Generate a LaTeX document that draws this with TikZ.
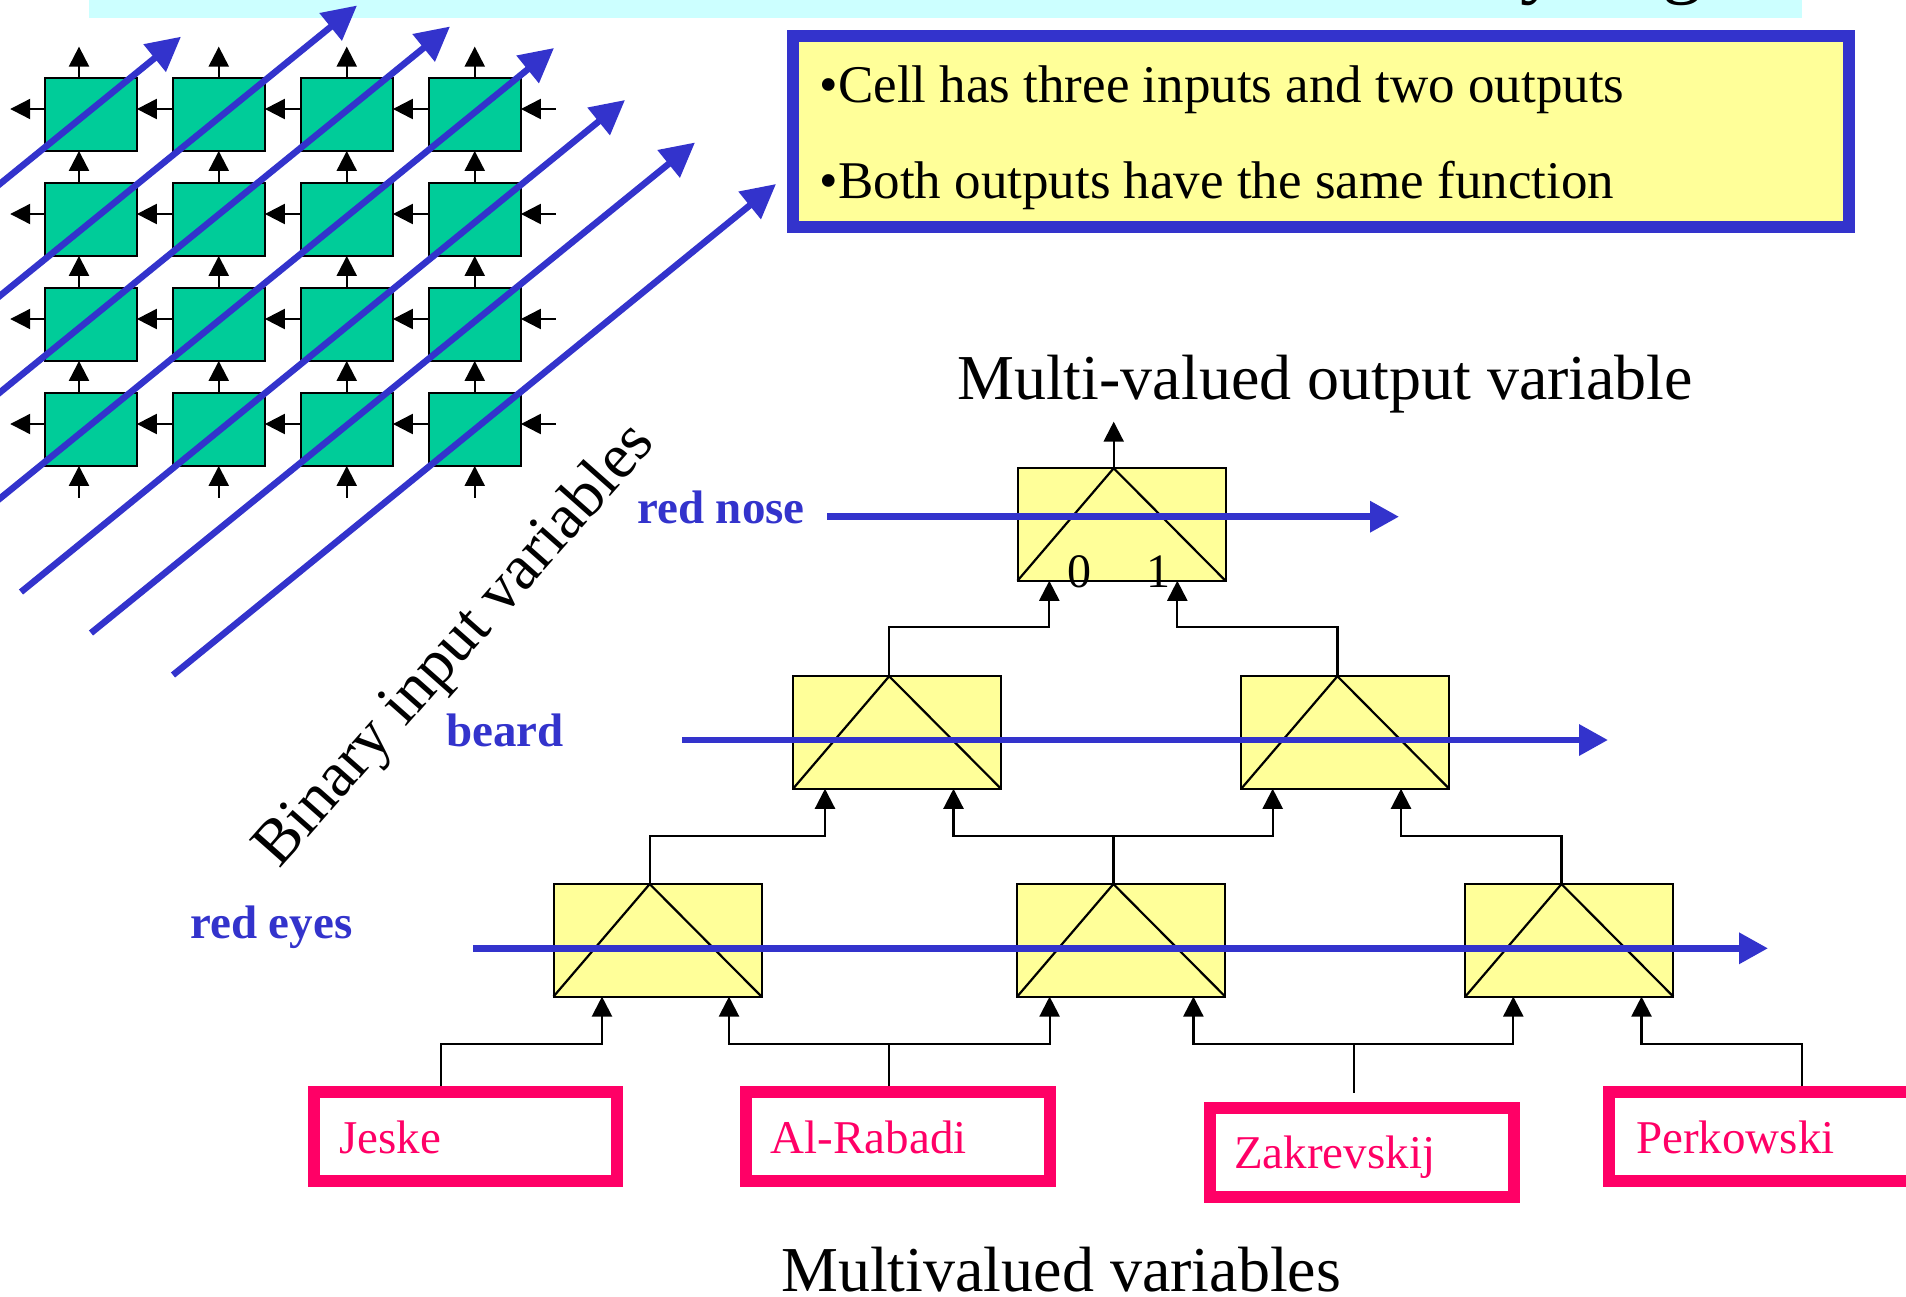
\documentclass[tikz,border=0pt]{standalone}
\usepackage{fontspec}
\setmainfont{Liberation Serif}
\usetikzlibrary{arrows.meta,calc}
\definecolor{cellgreen}{HTML}{00CC99}
\definecolor{varblue}{HTML}{3333CC}
\definecolor{namepink}{HTML}{FF0066}
\definecolor{noteyellow}{HTML}{FFFF99}
\definecolor{bandcyan}{HTML}{CCFFFF}

\begin{document}
\begin{tikzpicture}[x=1pt,y=-1pt,
  gcell/.style={draw=black, line width=2.2pt, fill=cellgreen, minimum width=92.3pt,
    minimum height=73.3pt, inner sep=0pt, outer sep=0pt},
  ycell/.style={draw=black, line width=2pt, fill=noteyellow, minimum width=208pt,
    minimum height=112.5pt, inner sep=0pt, outer sep=0pt},
  wire/.style={draw=black, line width=2.2pt},
  sarr/.style={wire, -{Triangle[length=20pt,width=20pt]}},
  varr/.style={draw=varblue, line width=6.5pt, -{Triangle[length=34pt,width=34pt]}},
  harr/.style={draw=varblue, line width=6.5pt, -{Triangle[length=29pt,width=30pt]}},
  namebox/.style={draw=namepink, line width=12pt, fill=white, minimum width=303.4pt,
    minimum height=89pt, inner sep=0pt, outer sep=0pt},
  notebox/.style={draw=varblue, line width=12pt, fill=noteyellow, minimum width=1056pt,
    minimum height=191pt, inner sep=0pt, outer sep=0pt},
  txt/.style={inner sep=0pt, anchor=base west},
  big/.style={txt, font=\fontsize{64}{70}\selectfont},
  notetxt/.style={txt, font=\fontsize{53}{60}\selectfont},
  nametxt/.style={txt, text=namepink, font=\fontsize{47}{52}\selectfont},
  varlbl/.style={txt, text=varblue, font=\fontsize{47}{52}\selectfont\bfseries},
  digit/.style={txt, font=\fontsize{48}{52}\selectfont},
  titletxt/.style={txt, font=\fontsize{80}{86}\selectfont}
]
\useasboundingbox (0,0) rectangle (1906,1296);
\clip (0,0) rectangle (1906,1296);

% title band (its text lies above the visible area)
\fill[bandcyan] (89,0) rectangle (1802,18);
\node[titletxt] (ttl1) at (1520,-11.7) {y};
\node[titletxt] (ttl2) at (1662.6,-11.7) {g};

% ---------------- iterative array of cells ----------------
\foreach \r in {1,...,4} {
  \foreach \c in {1,...,4} {
    \node[gcell] (g\r\c) at ({90.75+128*(\c-1)}, {114.3+105*(\r-1)}) {};
  }
}
% vertical signals (upwards)
\foreach \c/\dx in {1/-11.75,2/0,3/0,4/0} {
  \coordinate (gt\c) at ([xshift=\dx pt,yshift=31pt]g1\c.north);
  \draw[sarr] ([xshift=\dx pt]g1\c.north) -- (gt\c);
  \foreach \r in {1,2,3} {
    \pgfmathtruncatemacro\rn{\r+1}
    \draw[sarr] ([xshift=\dx pt]g\rn\c.north) -- ([xshift=\dx pt]g\r\c.south);
  }
  \coordinate (gb\c) at ([xshift=\dx pt,yshift=-32pt]g4\c.south);
  \draw[sarr] (gb\c) -- ([xshift=\dx pt]g4\c.south);
}
% horizontal signals (leftwards)
\foreach \r in {1,...,4} {
  \coordinate (gl\r) at ([xshift=-34.4pt,yshift=5.3pt]g\r1.west);
  \draw[sarr] ([yshift=5.3pt]g\r1.west) -- (gl\r);
  \foreach \c in {1,2,3} {
    \pgfmathtruncatemacro\cn{\c+1}
    \draw[sarr] ([yshift=5.3pt]g\r\cn.west) -- ([yshift=5.3pt]g\r\c.east);
  }
  \coordinate (gr\r) at ([xshift=35pt,yshift=5.3pt]g\r4.east);
  \draw[sarr] (gr\r) -- ([yshift=5.3pt]g\r4.east);
}

% binary input variables running diagonally through the array
\coordinate (d1s) at (-20,200.1);  \coordinate (d1e) at (181,36.7);
\coordinate (d2s) at (-20,312.0);  \coordinate (d2e) at (357,5.5);
\coordinate (d3s) at (-20,408.6);  \coordinate (d3e) at (450,26.5);
\coordinate (d4s) at (-20,514.7);  \coordinate (d4e) at (554,48);
\coordinate (d5s) at (21,592);     \coordinate (d5e) at (625,100);
\coordinate (d6s) at (91,633);     \coordinate (d6e) at (695,142.5);
\coordinate (d7s) at (173,675);    \coordinate (d7e) at (776,184);
\foreach \k in {1,...,7} { \draw[varr] (d\k s) -- (d\k e); }

\node[big, anchor=base, rotate=48.5] (binvars) at (468,657) {Binary input variables};

% ---------------- note box ----------------
\node[notebox] (note) at (1321,131.5) {};
\node[notetxt] (note1) at (819.5,102.5) {•Cell has three inputs and two outputs};
\node[notetxt] (note2) at (819.5,198) {•Both outputs have the same function};

% ---------------- tree of multi-valued cells ----------------
\node[big] (outlbl) at (957,399) {Multi-valued output variable};

\foreach \n/\x/\y/\il/\ir in {T/1121.5/524.5/-72.2/55.8, M1/897/732.5/-72/56.5,
    M2/1345.2/732.5/-72.5/55.8, B1/657.5/940.3/-55.5/71.5,
    B2/1121.2/940.3/-71.6/72.2, B3/1569.3/940.3/-56/72.2} {
  \node[ycell] (\n) at (\x,\y) {};
  \coordinate (\n-a) at ([xshift=-7.8pt]\n.north);
  \coordinate (\n-l) at ([xshift=\il pt]\n.south);
  \coordinate (\n-r) at ([xshift=\ir pt]\n.south);
  \draw[wire] (\n.south west) -- (\n-a) -- (\n.south east);
}

\node[digit] (zero) at (1066.8,587) {0};
\node[digit] (one) at (1146.7,587) {1};

% output of the root cell
\coordinate (Tout) at ([yshift=46.6pt]T-a);
\draw[sarr] (T-a) -- (Tout);

% levels of the horizontal wire runs
\coordinate (lvA) at (0,627.3);
\coordinate (lvB) at (0,836);
\coordinate (lvC) at (0,1044);

\draw[sarr] (M1-a) -- (M1-a |- lvA) -| (T-l);
\draw[sarr] (M2-a) -- (M2-a |- lvA) -| (T-r);
\draw[sarr] (B1-a) -- (B1-a |- lvB) -| (M1-l);
\draw[sarr] (B2-a) -- (B2-a |- lvB) -| (M1-r);
\draw[sarr] (B2-a |- lvB) -| (M2-l);
\draw[sarr] (B3-a) -- (B3-a |- lvB) -| (M2-r);

% multi-valued input variables
\node[namebox] (jeske) at (465.7,1136.5) {};
\node[namebox] (alrabadi) at (897.8,1136.5) {};
\node[namebox] (zakrev) at (1361.8,1152.8) {};
\node[namebox] (perk) at (1761,1136.7) {};
\node[nametxt] (jeskeT) at (339,1153.3) {Jeske};
\node[nametxt] (alrabadiT) at (770.7,1153) {Al-Rabadi};
\node[nametxt] (zakrevT) at (1234,1168.3) {Zakrevskij};
\node[nametxt] (perkT) at (1636,1153.3) {Perkowski};

\coordinate (jk) at ([xshift=-24.7pt,yshift=6pt]jeske.north);
\coordinate (ar) at ([xshift=-8.8pt,yshift=6pt]alrabadi.north);
\coordinate (zk) at ([xshift=-8.1pt,yshift=15.6pt]zakrev.north);
\coordinate (pk) at ([xshift=40.8pt,yshift=6pt]perk.north);

\draw[sarr] (jk) -- (jk |- lvC) -| (B1-l);
\draw[sarr] (ar) -- (ar |- lvC) -| (B1-r);
\draw[sarr] (ar |- lvC) -| (B2-l);
\draw[sarr] (zk) -- (zk |- lvC) -| (B2-r);
\draw[sarr] (zk |- lvC) -| (B3-l);
\draw[sarr] (pk) -- (pk |- lvC) -| (B3-r);

\node[big] (mvlbl) at (781,1291.5) {Multivalued variables};

% binary variables controlling each level
\coordinate (rn1) at (827,516.7);  \coordinate (rn2) at (1399,516.7);
\coordinate (bd1) at (682,740);    \coordinate (bd2) at (1608,740);
\coordinate (re1) at (473,948.3);  \coordinate (re2) at (1768,948.3);
\draw[harr] (rn1) -- (rn2);
\draw[harr] (bd1) -- (bd2);
\draw[harr] (re1) -- (re2);
\node[varlbl] (rednose) at (637,523) {red nose};
\node[varlbl] (beard) at (446,746.5) {beard};
\node[varlbl] (redeyes) at (190,938) {red eyes};
\end{tikzpicture}
\end{document}
